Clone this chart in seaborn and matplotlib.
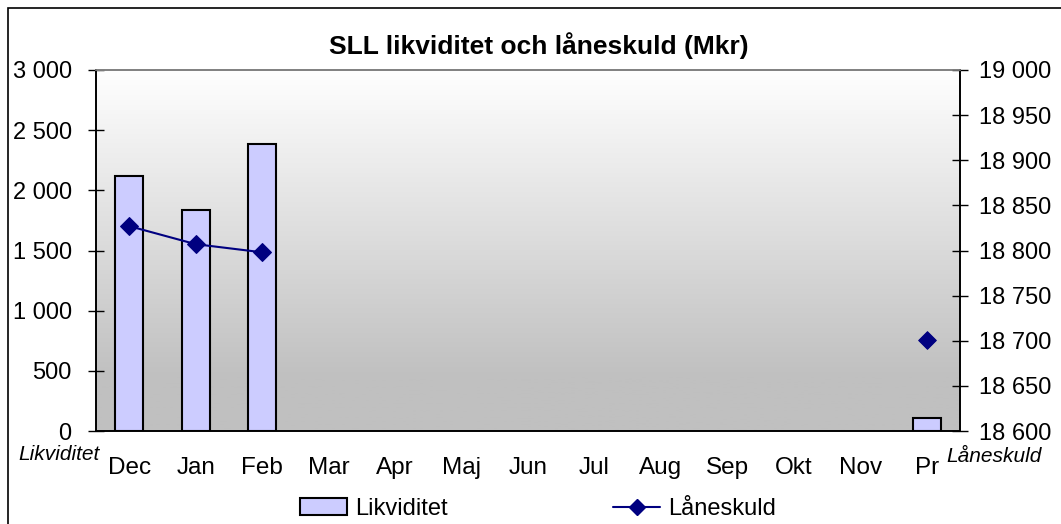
import numpy as np
import pandas as pd
import seaborn as sns
import matplotlib.pyplot as plt
from matplotlib.patches import Rectangle, Patch
from matplotlib.lines import Line2D
from matplotlib.colors import LinearSegmentedColormap
from matplotlib.ticker import FuncFormatter

# data
months = ['Dec', 'Jan', 'Feb', 'Mar', 'Apr', 'Maj', 'Jun', 'Jul', 'Aug', 'Sep', 'Okt', 'Nov', 'Pr']
bar_months = ['Dec', 'Jan', 'Feb', 'Pr']
likviditet = [2119, 1837, 2385, 108]
line_months = ['Dec', 'Jan', 'Feb']
laneskuld = [18827, 18807, 18798]
pr_laneskuld = 18701

sns.set_style('white')
plt.rcParams['font.family'] = ['Liberation Sans', 'DejaVu Sans']
plt.rcParams['text.color'] = 'black'
plt.rcParams['xtick.color'] = 'black'
plt.rcParams['ytick.color'] = 'black'
plt.rcParams['axes.labelcolor'] = 'black'

fig = plt.figure(figsize=(10.61, 5.24), dpi=100)
ax = fig.add_axes([96 / 1061, 1 - 431 / 524, 864 / 1061, 361 / 524])

# gradient background
cmap = LinearSegmentedColormap.from_list('bg', [(0, '#c0c0c0'), (0.15, '#c0c0c0'), (1, '#ffffff')])
grad = np.linspace(0, 1, 256).reshape(-1, 1)
ax.imshow(grad, extent=[0, 1, 0, 1], transform=ax.transAxes, aspect='auto',
          cmap=cmap, origin='lower', zorder=0)

bars = pd.DataFrame({'month': bar_months, 'value': likviditet})
sns.barplot(data=bars, x='month', y='value', order=months, ax=ax, width=0.42,
            color='#ccccff', saturation=1, edgecolor='black', linewidth=1.5, zorder=2)

ax.set_xlim(-0.5, 12.5)
ax.set_ylim(0, 3000)
ax.set_yticks(np.arange(0, 3001, 500))
fmt = FuncFormatter(lambda v, p: f'{v:,.0f}'.replace(',', ' '))
ax.yaxis.set_major_formatter(fmt)
ax.set_xticks(np.arange(-0.5, 13, 1))
ax.set_xticklabels([])
ax.set_xticks(range(13), minor=True)
ax.set_xticklabels(months, minor=True)
ax.set_xlabel('')
ax.set_ylabel('')
ax.tick_params(axis='x', which='major', direction='inout', length=11, width=1, color='black')
ax.tick_params(axis='x', which='minor', length=0, pad=19, labelsize=17.5, labelcolor='black')
ax.tick_params(axis='y', direction='inout', length=11, width=1, color='black', pad=12,
               labelsize=17, labelcolor='black', left=True)

ax2 = ax.twinx()
pos = [months.index(m) for m in line_months]
sns.lineplot(x=pos, y=laneskuld, ax=ax2, color='#000080', linewidth=1.5,
             marker='D', markersize=9, markeredgecolor='#000080')
sns.scatterplot(x=[months.index('Pr')], y=[pr_laneskuld], ax=ax2, color='#000080',
                marker='D', s=81, edgecolor='#000080')
ax2.set_ylim(18600, 19000)
ax2.set_yticks(np.arange(18600, 19001, 50))
ax2.yaxis.set_major_formatter(fmt)
ax2.set_xlim(-0.5, 12.5)
ax2.tick_params(axis='y', direction='inout', length=11, width=1, color='black', pad=8,
                labelsize=17, labelcolor='black', right=True)

for a in (ax, ax2):
    for s in ('left', 'right', 'bottom'):
        a.spines[s].set_color('black')
        a.spines[s].set_linewidth(1.2)
    a.spines['top'].set_color('#808080')
    a.spines['top'].set_linewidth(1.2)

fig.text(539 / 1061, 1 - 46 / 524, 'SLL likviditet och låneskuld (Mkr)', ha='center', va='center',
         fontsize=19, fontweight='bold')
fig.text(18 / 1061, 1 - 455 / 524, 'Likviditet', ha='left', va='center', fontsize=15, style='italic')
fig.text(946 / 1061, 1 - 456 / 524, 'Låneskuld', ha='left', va='center', fontsize=15, style='italic')

handles = [Patch(facecolor='#ccccff', edgecolor='black', linewidth=1.5),
           Line2D([], [], color='#000080', linewidth=1.5, marker='D', markersize=8)]
fig.legend(handles, ['Likviditet', 'Låneskuld'], loc='center', bbox_to_anchor=(538 / 1061, 1 - 509 / 524),
           ncol=2, frameon=False, fontsize=17, handlelength=2.0, columnspacing=7, handletextpad=0.35)

fig.add_artist(Rectangle((8 / 1061, -0.1), 1.2, 1.1 - 8 / 524, transform=fig.transFigure,
                         fill=False, edgecolor='black', linewidth=1.2))

fig.savefig('out.png', dpi=100)
